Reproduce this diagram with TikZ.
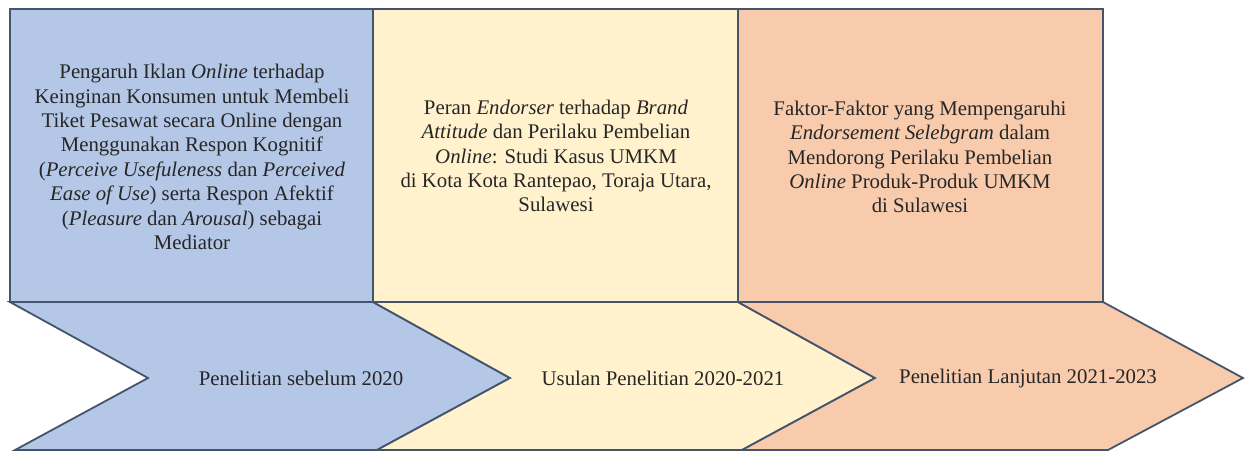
\documentclass[tikz,border=0pt]{standalone}
\usepackage{fontspec}
\setmainfont{Liberation Serif}[ItalicFont={Liberation Serif Italic}, BoldFont={Liberation Serif Bold}]
\definecolor{edge}{HTML}{44546A}
\definecolor{fblue}{HTML}{B4C7E7}
\definecolor{fyellow}{HTML}{FFF2CC}
\definecolor{forange}{HTML}{F8CBAD}
\definecolor{ink}{HTML}{262626}
\tikzset{
  panel/.style={draw=edge, line width=0.9pt, line join=miter},
  ptext/.style={align=center, text=ink, font=\rmfamily\fontsize{10.4}{12.2}\selectfont, inner sep=0pt},
  ltext/.style={anchor=center, text=ink, font=\rmfamily\fontsize{10.4}{12.2}\selectfont, inner sep=0pt}
}
\begin{document}
\begin{tikzpicture}[x=0.5pt,y=-0.5pt]
\useasboundingbox (0,0) rectangle (1251,452);
% chevrons
\path[panel, fill=fblue] (10,302) -- (373,302) -- (510,378) -- (377,450) -- (15,450) -- (148,378) -- cycle;
\path[panel, fill=fyellow] (373,302) -- (738,302) -- (875,378) -- (742,450) -- (377,450) -- (510,378) -- cycle;
\path[panel, fill=forange] (738,302) -- (1103,302) -- (1243,378) -- (1108,450) -- (742,450) -- (875,378) -- cycle;
% rectangles
\path[panel, fill=fblue] (10,9) rectangle (373,302);
\path[panel, fill=fyellow] (373,9) rectangle (738,302);
\path[panel, fill=forange] (738,9) rectangle (1103,302);
% texts
\node[ptext] (t1) at (192,157) {Pengaruh Iklan \textit{Online} terhadap\\
Keinginan Konsumen untuk Membeli\\
Tiket Pesawat secara Online dengan\\
Menggunakan Respon Kognitif\\
(\textit{Perceive Usefuleness} dan \textit{Perceived}\\
\textit{Ease of Use}) serta Respon Afektif\\
(\textit{Pleasure} dan \textit{Arousal}) sebagai\\
Mediator};
\node[ptext] (t2) at (556,156) {Peran \textit{Endorser} terhadap \textit{Brand}\\
\textit{Attitude} dan Perilaku Pembelian\\
\textit{Online}: Studi Kasus UMKM\\
di Kota Kota Rantepao, Toraja Utara,\\
Sulawesi};
\node[ptext] (t3) at (920,157) {Faktor-Faktor yang Mempengaruhi\\
\textit{Endorsement Selebgram} dalam\\
Mendorong Perilaku Pembelian\\
\textit{Online} Produk-Produk UMKM\\
di Sulawesi};
\node[ltext] (l1) at (301,378) {Penelitian sebelum 2020};
\node[ltext] (l2) at (663,378) {Usulan Penelitian 2020-2021};
\node[ltext] (l3) at (1028,378) {Penelitian Lanjutan 2021-2023};
\end{tikzpicture}
\end{document}
